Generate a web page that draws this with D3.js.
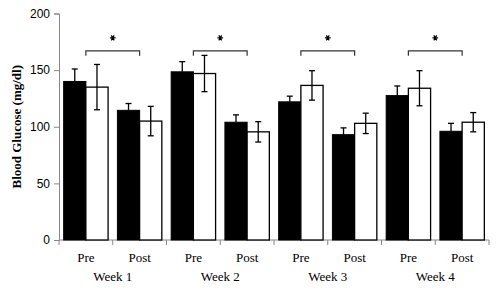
<!DOCTYPE html>
<html>
<head>
<meta charset="utf-8">
<script src="https://cdn.jsdelivr.net/npm/d3@7"></script>
<style>
  html, body { margin: 0; padding: 0; background: #fff; }
  svg { display: block; }
</style>
</head>
<body>
<svg id="chart" width="500" height="299"></svg>
<script>
// data
const weeks = ['Week 1', 'Week 2', 'Week 3', 'Week 4'];
const phases = ['Pre', 'Post'];
const blackMean = [140, 114.5, 148.5, 104, 122, 93, 127.5, 96];
const blackErr  = [11, 6, 9, 6.5, 5, 6, 8.5, 7];
const whiteMean = [135, 105, 147, 95.5, 136.5, 103, 134, 104];
const whiteErr  = [20, 13, 16, 9, 13, 9, 15.5, 8.5];
const yTicks = [0, 50, 100, 150, 200];
const bracketLevel = 167;

const svg = d3.select('#chart');
const m = { left: 59, right: 11, top: 13.5, bottom: 59 };
const W = 500, H = 299;

const cats = [];
weeks.forEach(w => phases.forEach(p => cats.push(w + '|' + p)));

const x = d3.scaleBand().domain(cats).range([m.left, W - m.right]).paddingInner(0).paddingOuter(0);
const y = d3.scaleLinear().domain([0, 200]).range([H - m.bottom, m.top]);
const inner = d3.scaleBand().domain(['b', 'w']).range([0, x.bandwidth()]).paddingInner(0).paddingOuter(0.21);

const rows = cats.map((c, i) => ({ c, i, b: blackMean[i], be: blackErr[i], w: whiteMean[i], we: whiteErr[i] }));

// y axis
const yAxis = svg.append('g').attr('transform', `translate(${m.left},0)`)
  .call(d3.axisLeft(y).tickValues(yTicks).tickSize(5).tickPadding(4));
yAxis.select('.domain').attr('stroke', '#888');
yAxis.selectAll('.tick line').attr('stroke', '#888');
yAxis.selectAll('.tick text').attr('font-family', 'Liberation Sans, Arial, sans-serif').attr('font-size', 12).attr('fill', '#000');

// x axis baseline + boundary ticks
const xg = svg.append('g');
xg.append('line').attr('x1', m.left).attr('x2', W - m.right).attr('y1', y(0)).attr('y2', y(0)).attr('stroke', '#888');
const bounds = cats.map(c => x(c)).concat([x(cats[cats.length - 1]) + x.bandwidth()]);
xg.selectAll('line.tk').data(bounds).enter().append('line').attr('class', 'tk')
  .attr('x1', d => d).attr('x2', d => d).attr('y1', y(0)).attr('y2', y(0) + 5).attr('stroke', '#888');

// bars
const g = svg.append('g');
const bw = inner.bandwidth();
function errBar(sel, cx, mean, err, twoSided) {
  const lo = twoSided ? mean - err : mean;
  sel.append('line').attr('x1', cx).attr('x2', cx).attr('y1', y(mean + err)).attr('y2', y(lo)).attr('stroke', '#000').attr('stroke-width', 1.3);
  sel.append('line').attr('x1', cx - 3).attr('x2', cx + 3).attr('y1', y(mean + err)).attr('y2', y(mean + err)).attr('stroke', '#000').attr('stroke-width', 1.3);
  if (twoSided) sel.append('line').attr('x1', cx - 3).attr('x2', cx + 3).attr('y1', y(lo)).attr('y2', y(lo)).attr('stroke', '#000').attr('stroke-width', 1.3);
}
rows.forEach(r => {
  const x0 = x(r.c);
  g.append('rect').attr('x', x0 + inner('b')).attr('y', y(r.b)).attr('width', bw).attr('height', y(0) - y(r.b))
    .attr('fill', '#000').attr('stroke', '#000');
  g.append('rect').attr('x', x0 + inner('w')).attr('y', y(r.w)).attr('width', bw).attr('height', y(0) - y(r.w))
    .attr('fill', '#fff').attr('stroke', '#000').attr('stroke-width', 1.3);
  errBar(g, x0 + inner('b') + bw / 2, r.b, r.be, false);
  errBar(g, x0 + inner('w') + bw / 2, r.w, r.we, true);
});

// significance brackets with a small asterisk mark
const star = d3.symbol().type(d3.symbolAsterisk || d3.symbolCross).size(22);
weeks.forEach(w => {
  const xa = x(w + '|Pre') + x.bandwidth() / 2;
  const xb = x(w + '|Post') + x.bandwidth() / 2;
  const yb = y(bracketLevel);
  svg.append('path').attr('d', `M${xa},${yb + 5}V${yb}H${xb}V${yb + 5}`)
    .attr('fill', 'none').attr('stroke', '#333').attr('stroke-width', 1.2);
  svg.append('path').attr('d', star()).attr('transform', `translate(${(xa + xb) / 2},${yb - 13}) rotate(90)`)
    .attr('fill', 'none').attr('stroke', '#000').attr('stroke-width', 1.2);
});

// category labels
const serif = 'Liberation Serif, Times New Roman, serif';
svg.selectAll('text.ph').data(cats).enter().append('text').attr('class', 'ph')
  .attr('x', d => x(d) + x.bandwidth() / 2).attr('y', 262).attr('text-anchor', 'middle')
  .attr('font-family', serif).attr('font-size', 13).text(d => d.split('|')[1]);
svg.selectAll('text.wk').data(weeks).enter().append('text').attr('class', 'wk')
  .attr('x', w => x(w + '|Post')).attr('y', 281).attr('text-anchor', 'middle')
  .attr('font-family', serif).attr('font-size', 13).text(w => w);

// y label
svg.append('text').attr('transform', `translate(21,${(y(0) + y(200)) / 2}) rotate(-90)`)
  .attr('text-anchor', 'middle').attr('font-family', serif).attr('font-size', 13).attr('font-weight', 'bold')
  .text('Blood Glucose (mg/dl)');
</script>
</body>
</html>
